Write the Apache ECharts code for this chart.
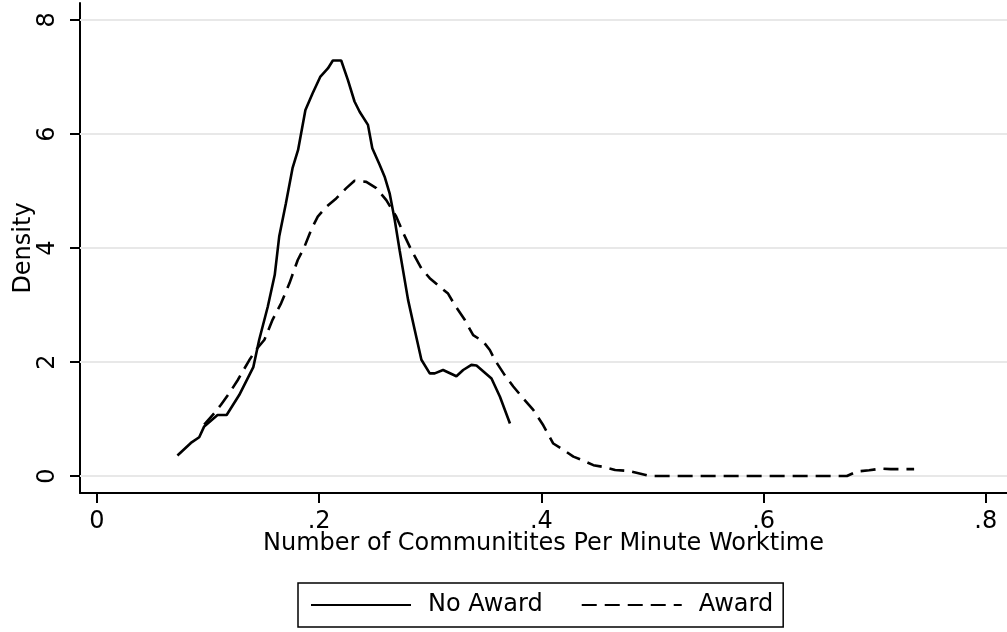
<!DOCTYPE html>
<html>
<head>
<meta charset="utf-8">
<script src="https://cdn.jsdelivr.net/npm/echarts@6/dist/echarts.min.js"></script>
<style>html,body{margin:0;padding:0;background:#fff}#c{width:1007px;height:632px}</style>
</head>
<body>
<div id="c"></div>
<script>
var seriesNames = ['No Award', 'Award'];
var noAwardX = [0.0724,0.0845,0.092,0.0965,0.1085,0.1167,0.128,0.1407,0.146,0.1537,0.16,0.164,0.170,0.176,0.181,0.1876,0.194,0.2009,0.2078,0.2123,0.2198,0.2258,0.2318,0.2364,0.2439,0.2478,0.2544,0.2589,0.2634,0.268,0.2724,0.280,0.286,0.292,0.2995,0.304,0.3115,0.3235,0.3296,0.337,0.3416,0.3551,0.3627,0.3717];
var noAwardY = [0.36,0.58,0.68,0.87,1.07,1.07,1.42,1.91,2.39,2.97,3.53,4.2,4.78,5.40,5.72,6.42,6.71,7.0,7.15,7.29,7.29,6.95,6.57,6.39,6.16,5.75,5.46,5.25,4.96,4.49,3.96,3.09,2.56,2.04,1.80,1.80,1.86,1.75,1.86,1.95,1.94,1.71,1.39,0.92];
var awardX = [0.0965,0.1055,0.1116,0.119,0.1266,0.137,0.143,0.1507,0.158,0.1657,0.1732,0.1807,0.1867,0.1928,0.1987,0.2063,0.2153,0.2244,0.2318,0.2424,0.2514,0.2604,0.2694,0.276,0.283,0.292,0.2995,0.3085,0.316,0.322,0.331,0.3386,0.3476,0.3536,0.358,0.367,0.3747,0.3837,0.3927,0.4017,0.4107,0.4198,0.4288,0.4378,0.4468,0.4558,0.4664,0.4784,0.4874,0.498,0.55,0.60,0.65,0.675,0.684,0.695,0.7054,0.7145,0.7355];
var awardY = [0.9,1.1,1.25,1.45,1.68,2.03,2.21,2.39,2.74,3.03,3.38,3.79,4.02,4.32,4.55,4.72,4.87,5.05,5.18,5.16,5.05,4.84,4.55,4.25,3.96,3.64,3.47,3.32,3.2,3.0,2.74,2.47,2.36,2.21,2.04,1.77,1.57,1.36,1.16,0.89,0.57,0.46,0.34,0.27,0.19,0.16,0.105,0.09,0.05,0,0,0,0,0,0.08,0.1,0.13,0.12,0.12];
var xTicks = [0, 0.2, 0.4, 0.6, 0.8];
var xTickLabels = ['0', '.2', '.4', '.6', '.8'];
var yTicks = [0, 2, 4, 6, 8];
var yTickLabels = ['0', '2', '4', '6', '8'];
var xTitle = 'Number of Communitites Per Minute Worktime';
var yTitle = 'Density';

function zip(xs, ys) { return xs.map(function (x, i) { return [x, ys[i]]; }); }

var FONT = 'DejaVu Sans';
var chart = echarts.init(document.getElementById('c'), null, { renderer: 'canvas' });
chart.setOption({
  animation: false,
  backgroundColor: '#fff',
  textStyle: { fontFamily: FONT },
  grid: { left: 80, right: 0, top: 3, bottom: 139, containLabel: false },
  xAxis: {
    type: 'value', min: -0.0153, max: 0.8191,
    name: xTitle, nameLocation: 'middle', nameGap: 39, nameMoveOverlap: false,
    nameTextStyle: { fontFamily: FONT, fontSize: 24, color: '#000' },
    axisLine: { show: true, onZero: false, lineStyle: { color: '#000', width: 2 } },
    axisTick: { show: true, length: 10, customValues: xTicks, lineStyle: { color: '#000', width: 2 } },
    axisLabel: { customValues: xTicks, margin: 17, fontFamily: FONT, fontSize: 24, color: '#000',
      formatter: function (v) { var i = xTicks.findIndex(function (t) { return Math.abs(t - v) < 1e-9; }); return i >= 0 ? xTickLabels[i] : ''; } },
    splitLine: { show: false }
  },
  yAxis: {
    type: 'value', min: -0.2982, max: 8.298,
    name: yTitle, nameLocation: 'middle', nameGap: 44, nameRotate: 90, nameMoveOverlap: false,
    nameTextStyle: { fontFamily: FONT, fontSize: 24, color: '#000' },
    axisLine: { show: true, onZero: false, lineStyle: { color: '#000', width: 2 } },
    axisTick: { show: true, length: 10, customValues: yTicks, lineStyle: { color: '#000', width: 2 } },
    axisLabel: { customValues: yTicks, rotate: 90, margin: 20, fontFamily: FONT, fontSize: 24, color: '#000',
      formatter: function (v) { var i = yTicks.findIndex(function (t) { return Math.abs(t - v) < 1e-9; }); return i >= 0 ? yTickLabels[i] : ''; } },
    splitLine: { show: false }
  },
  legend: {
    data: seriesNames,
    left: 298, top: 583,
    orient: 'horizontal',
    padding: [10, 10, 10, 12],
    itemWidth: 100, itemHeight: 25, itemGap: 38,
    borderColor: '#000', borderWidth: 1.5, borderRadius: 0,
    itemStyle: { color: 'rgba(0,0,0,0)', borderWidth: 0, opacity: 0 },
    textStyle: { fontFamily: FONT, fontSize: 24, color: '#000', padding: [0, 0, 0, 12] },
    selectedMode: false
  },
  series: [
    {
      name: seriesNames[0], type: 'line', data: zip(noAwardX, noAwardY),
      symbol: 'none', smooth: false, z: 3,
      lineStyle: { color: '#000', width: 2.6, type: 'solid' },
      itemStyle: { color: '#000' },
      markLine: {
        silent: true, symbol: ['none', 'none'], z: 1,
        label: { show: false },
        lineStyle: { color: '#e8e8e8', width: 2, type: 'solid' },
        data: yTicks.map(function (t) { return { yAxis: t }; })
      }
    },
    {
      name: seriesNames[1], type: 'line', data: zip(awardX, awardY),
      symbol: 'none', smooth: false, z: 3,
      lineStyle: { color: '#000', width: 2.6, type: [15, 8] },
      itemStyle: { color: '#000' }
    }
  ]
});
</script>
</body>
</html>
